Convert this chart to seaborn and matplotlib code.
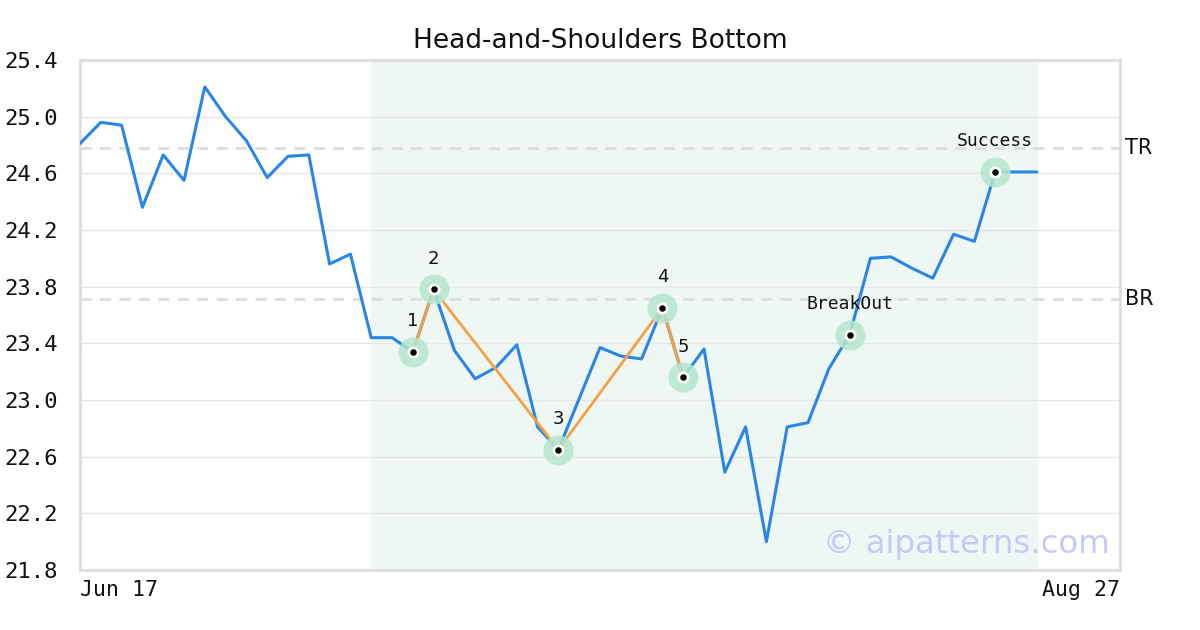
import pandas as pd
import matplotlib.pyplot as plt
import seaborn as sns

# harga penutupan harian
prices = [24.81, 24.96, 24.94, 24.36, 24.73, 24.55, 25.21, 25.00, 24.83, 24.57,
          24.72, 24.73, 23.96, 24.03, 23.44, 23.44, 23.34, 23.78, 23.35, 23.15,
          23.23, 23.39, 22.81, 22.65, 23.01, 23.37, 23.31, 23.29, 23.65, 23.16,
          23.36, 22.49, 22.81, 22.00, 22.81, 22.84, 23.22, 23.46, 24.00, 24.01,
          23.93, 23.86, 24.17, 24.12, 24.61, 24.61, 24.61]
pattern_idx = [16, 17, 23, 28, 29]
pattern_labels = ['1', '2', '3', '4', '5']
event_idx = [37, 44]
event_labels = ['BreakOut', 'Success']
top_line = 24.78
bottom_line = 23.71
shade_range = [14, 46]
x_max = 50
x_tick_labels = ['Jun 17', 'Aug 27']
y_ticks = [21.8, 22.2, 22.6, 23.0, 23.4, 23.8, 24.2, 24.6, 25.0, 25.4]

df = pd.DataFrame({'idx': range(len(prices)), 'price': prices})
df_pat = df.iloc[pattern_idx]

sns.set_theme(style="white")
plt.rcParams['font.family'] = ['DejaVu Sans']

fig = plt.figure(figsize=(12, 6.3), dpi=100)
ax = fig.add_axes([80 / 1200, 1 - 570 / 630, 1040 / 1200, 510 / 630])

# area pola
ax.axvspan(shade_range[0], shade_range[1], color='#eef7f3', zorder=0)

# garis grid horizontal
for t in y_ticks:
    ax.axhline(t, color='#e6e6e6', lw=1, zorder=1)

# garis resistance / support
ax.axhline(top_line, color='#dddddd', lw=2, ls=(0, (4, 3)), zorder=1)
ax.axhline(bottom_line, color='#dddddd', lw=2, ls=(0, (4, 3)), zorder=1)

sns.lineplot(data=df, x='idx', y='price', color='#2a86e6', lw=2.2, ax=ax, zorder=3)
sns.lineplot(data=df_pat, x='idx', y='price', color='#f5a043', lw=2, ax=ax,
             zorder=4, sort=False)

marker_idx = pattern_idx + event_idx
df_mark = df.iloc[marker_idx]
ax.scatter(df_mark['idx'], df_mark['price'], s=470, color='#b5e6cf', alpha=0.85,
           zorder=5, linewidths=0)
ax.scatter(df_mark['idx'], df_mark['price'], s=75, color='white', zorder=6, linewidths=0)
ax.scatter(df_mark['idx'], df_mark['price'], s=22, color='black', zorder=7, linewidths=0)

for i, lab in zip(pattern_idx, pattern_labels):
    ax.annotate(lab, (i, prices[i]), xytext=(0, 22), textcoords='offset points',
                ha='center', va='center', fontsize=13, color='#111111', zorder=8)
for i, lab in zip(event_idx, event_labels):
    ax.annotate(lab, (i, prices[i]), xytext=(0, 22), textcoords='offset points',
                ha='center', va='center', fontsize=13, color='#111111',
                family='DejaVu Sans Mono', zorder=8)

ax.text(x_max + 0.25, top_line, 'TR', ha='left', va='center', fontsize=15, color='#111111')
ax.text(x_max + 0.25, bottom_line, 'BR', ha='left', va='center', fontsize=15, color='#111111')

ax.text(x_max - 0.5, 21.98, '© aipatterns.com', ha='right', va='center',
        fontsize=23.3, color='#c8c8f8', zorder=2)

ax.set_xlim(0, x_max)
ax.set_ylim(y_ticks[0], y_ticks[-1])
ax.set_yticks(y_ticks)
ax.set_yticklabels([f'{t:.1f}' for t in y_ticks], family='DejaVu Sans Mono', fontsize=16)
ax.set_xticks([0, x_max])
ax.set_xticklabels(x_tick_labels, family='DejaVu Sans Mono', fontsize=15.5)
ax.get_xticklabels()[0].set_ha('left')
ax.get_xticklabels()[1].set_ha('right')
ax.tick_params(axis='both', length=0, colors='#111111')
ax.tick_params(axis='y', pad=16)
ax.tick_params(axis='x', pad=7)
ax.set_xlabel('')
ax.set_ylabel('')
for s in ax.spines.values():
    s.set_color('#dddddd')
    s.set_linewidth(2)

ax.set_title('Head-and-Shoulders Bottom', fontsize=19, color='#111111', pad=9)

fig.savefig('out.png', dpi=100)
